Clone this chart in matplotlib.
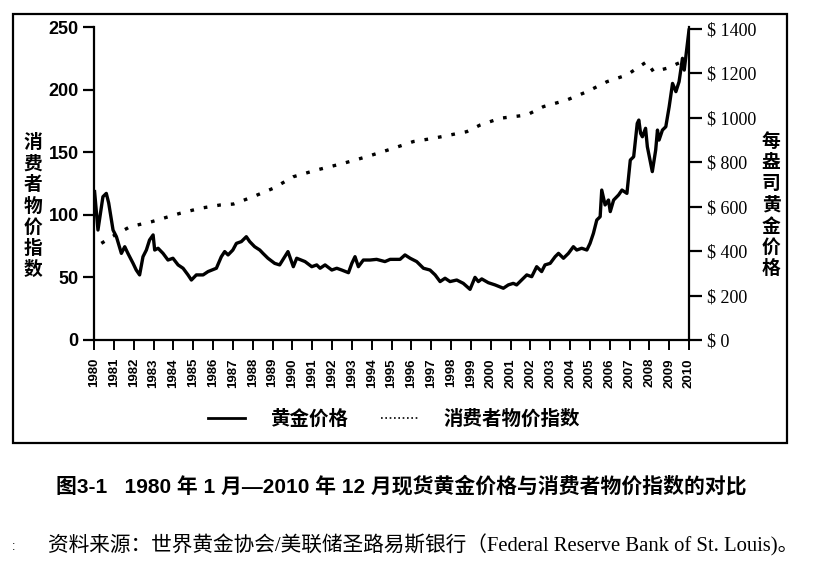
import matplotlib
matplotlib.use("Agg")
import matplotlib.pyplot as plt
from matplotlib.patches import Rectangle
from matplotlib.lines import Line2D

plt.rcParams['font.family'] = ['Liberation Sans', 'Noto Sans CJK SC', 'DejaVu Sans']

# ---- data ----
gold_years = [1980.03, 1980.2, 1980.45, 1980.62, 1980.74, 1980.96, 1981.13, 1981.38, 1981.55,
              1981.71, 1981.97, 1982.13, 1982.3, 1982.47, 1982.64, 1982.8, 1982.98, 1983.06,
              1983.23, 1983.48, 1983.73, 1983.98, 1984.24, 1984.49, 1984.74, 1984.91, 1985.16,
              1985.5, 1985.75, 1986.17, 1986.42, 1986.59, 1986.76, 1987.0, 1987.18, 1987.43,
              1987.68, 1987.85, 1988.1, 1988.36, 1988.52, 1988.77, 1989.11, 1989.36, 1989.62,
              1989.78, 1990.05, 1990.22, 1990.64, 1990.98, 1991.23, 1991.4, 1991.65, 1991.99,
              1992.24, 1992.49, 1992.83, 1993.0, 1993.16, 1993.33, 1993.58, 1993.92, 1994.25,
              1994.67, 1994.93, 1995.43, 1995.68, 1995.94, 1996.27, 1996.61, 1996.94, 1997.2,
              1997.45, 1997.7, 1997.95, 1998.29, 1998.62, 1998.96, 1999.21, 1999.38, 1999.55,
              1999.88, 2000.22, 2000.64, 2000.89, 2001.14, 2001.31, 2001.56, 2001.82, 2002.07,
              2002.32, 2002.57, 2002.74, 2003.0, 2003.25, 2003.42, 2003.67, 2003.92, 2004.17,
              2004.34, 2004.59, 2004.85, 2005.01, 2005.18, 2005.35, 2005.52, 2005.6, 2005.77,
              2005.94, 2006.03, 2006.2, 2006.45, 2006.62, 2006.87, 2007.04, 2007.21, 2007.39,
              2007.47, 2007.56, 2007.65, 2007.81, 2007.9, 2008.15, 2008.32, 2008.41, 2008.49,
              2008.66, 2008.83, 2009.0, 2009.17, 2009.34, 2009.5, 2009.67, 2009.76, 2009.84,
              2010.0]
gold_prices = [668, 495, 645, 660, 617, 495, 465, 390, 420,
               390, 345, 315, 293, 375, 405, 450, 473, 405,
               413, 390, 360, 368, 338, 323, 293, 270, 293,
               293, 308, 323, 375, 398, 383, 405, 435, 443,
               465, 443, 420, 405, 390, 368, 345, 338, 375,
               398, 330, 368, 353, 330, 338, 323, 338, 315,
               323, 315, 303, 345, 375, 330, 360, 360, 363,
               353, 363, 363, 383, 368, 353, 323, 315, 293,
               263, 278, 263, 270, 255, 228, 282, 263, 275,
               258, 248, 233, 248, 255, 248, 270, 293, 285,
               330, 308, 338, 345, 375, 390, 368, 390, 420,
               405, 413, 405, 435, 480, 540, 555, 675, 608,
               630, 578, 630, 653, 675, 660, 810, 825, 975,
               990, 930, 915, 953, 870, 758, 855, 945, 900,
               945, 960, 1050, 1155, 1118, 1163, 1268, 1215, 1275,
               1395]

cpi_years = [1980.37, 1981.06, 1981.82, 1982.91, 1984.34, 1985.35, 1986.35, 1987.03, 1988.03,
             1989.04, 1990.05, 1991.23, 1992.57, 1993.75, 1995.09, 1996.1, 1997.11, 1998.79,
             1999.47, 2000.47, 2001.82, 2002.66, 2003.84, 2004.85, 2005.86, 2006.87, 2007.87,
             2008.21, 2008.88, 2009.64, 2010.0]
cpi_values = [77.2, 83.9, 90.5, 94.5, 101.2, 105.2, 107.8, 108.6, 114.5,
              121.2, 130.4, 135.8, 141.1, 146.4, 153.1, 158.5, 161.1, 166.4,
              171.7, 177.1, 179.7, 186.4, 191.7, 198.3, 206.3, 211.7, 222.3,
              214.3, 217.0, 222.3, 223.0]

year_ticks = list(range(1980, 2011))
left_ticks = [0, 50, 100, 150, 200, 250]
right_ticks = [0, 200, 400, 600, 800, 1000, 1200, 1400]

legend_labels = ['黄金价格', '消费者物价指数']
left_label = '消费者物价指数'
right_label = '每盎司黄金价格'
caption = '图3-1   1980 年 1 月—2010 年 12 月现货黄金价格与消费者物价指数的对比'
source = '资料来源：世界黄金协会/美联储圣路易斯银行（Federal Reserve Bank of St. Louis)。'

# ---- figure ----
W, H = 821, 570
fig = plt.figure(figsize=(W / 100, H / 100), dpi=100)
fig.patch.set_facecolor('white')

def fx(px):
    return px / W

def fy(py):
    return 1 - py / H

ax = fig.add_axes([fx(94), fy(340), fx(689) - fx(94), fy(27) - fy(340)])
ax2 = ax.twinx()

# CPI on left axis
ax.plot(cpi_years, cpi_values, color='black', lw=2.4, linestyle=(0, (1.1, 3.0)),
        dash_capstyle='butt')
ax.set_ylim(0, 250)
ax.set_xlim(1980, 2010)
ax.set_xticks(year_ticks)
ax.set_xticklabels([str(y) for y in year_ticks], rotation=90, fontsize=9.5,
                   fontweight='bold', family='Liberation Sans')
ax.set_yticks(left_ticks)
ax.set_yticklabels([str(v) for v in left_ticks], fontsize=13, fontweight='bold',
                   family='Liberation Sans')

# Gold on right axis
ax2.plot(gold_years, gold_prices, color='black', lw=2.4, solid_joinstyle='round')
ax2.set_ylim(0, 1409)
ax2.set_yticks(right_ticks)
ax2.set_yticklabels(['$ %d' % v for v in right_ticks], fontsize=13,
                    family='Liberation Serif')

for a in (ax, ax2):
    a.spines['top'].set_visible(False)
    for s in ('left', 'right', 'bottom'):
        a.spines[s].set_linewidth(1.6)
ax.spines['right'].set_visible(False)
ax2.spines['left'].set_visible(False)
ax2.spines['bottom'].set_visible(False)

ax.tick_params(axis='x', direction='out', length=7, width=1.4, pad=6)
ax.tick_params(axis='y', direction='out', length=8, width=1.6, pad=3)
ax2.tick_params(axis='y', direction='out', length=9, width=1.6, pad=4)

# vertical axis titles
cjk_bold = dict(family=['Noto Sans CJK SC'], fontweight='bold')
fig.text(fx(33), fy(206), '\n'.join(left_label), ha='center', va='center',
         fontsize=13.5, linespacing=1.14, **cjk_bold)
fig.text(fx(771), fy(205), '\n'.join(right_label), ha='center', va='center',
         fontsize=13.5, linespacing=1.14, **cjk_bold)

# legend
handles = [Line2D([], [], color='black', lw=2.0),
           Line2D([], [], color='black', lw=1.2, linestyle=(0, (1, 1.6)))]
leg = fig.legend(handles, legend_labels, loc='center', bbox_to_anchor=(fx(394), fy(419)),
                 ncol=2, frameon=False, handlelength=1.9, handletextpad=1.3,
                 columnspacing=1.7, prop={'family': 'Noto Sans CJK SC', 'weight': 'bold',
                                          'size': 14})

# outer frame
fig.add_artist(Rectangle((fx(13), fy(443)), fx(787) - fx(13), fy(14) - fy(443),
                         transform=fig.transFigure, fill=False, lw=1.6, color='black'))

# caption and source
fig.text(fx(56), fy(486), caption, ha='left', va='center', fontsize=15.0,
         family=['Liberation Sans', 'Noto Sans CJK SC'], fontweight='bold')
fig.text(fx(48), fy(545), source, ha='left', va='center', fontsize=14.9,
         family=['Liberation Serif', 'Noto Sans CJK SC'])
fig.text(fx(12), fy(547), ':', ha='left', va='center', fontsize=9,
         family='Liberation Sans')

fig.savefig('out.png', dpi=100)
